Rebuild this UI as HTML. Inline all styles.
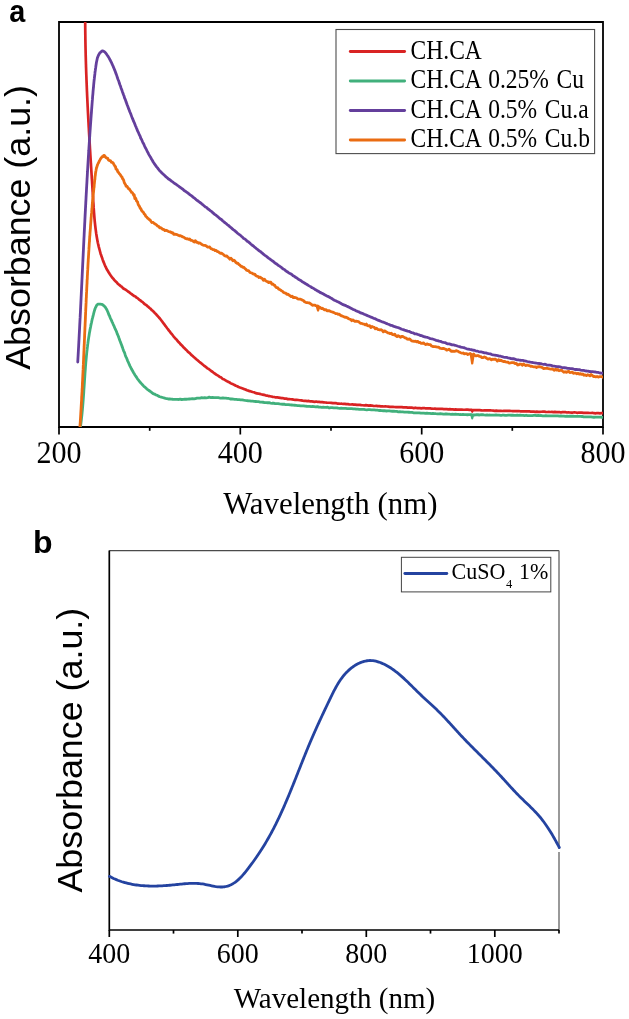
<!DOCTYPE html><html><head><meta charset="utf-8"><style>html,body{margin:0;padding:0;background:#fff;width:629px;height:1019px;overflow:hidden}svg{display:block;will-change:transform}</style></head><body><svg width="629" height="1019" viewBox="0 0 629 1019">
<rect width="629" height="1019" fill="#fff"/>
<defs><clipPath id="ca"><rect x="59" y="22" width="544" height="405"/></clipPath><clipPath id="cb"><rect x="109.3" y="550.6" width="449.7" height="379.4"/></clipPath></defs>
<text transform="translate(9.3 21.6) scale(0.9 1.0)" font-family="Liberation Sans, sans-serif" font-weight="bold" font-size="32">a</text>
<path d="M59 22H603V427H59Z" fill="none" stroke="#000" stroke-width="1.8"/>
<line x1="59.0" y1="427" x2="59.0" y2="434.5" stroke="#000" stroke-width="1.7"/>
<text transform="translate(59.0 462.6) scale(1.02 1.07)" text-anchor="middle" font-family="Liberation Serif, serif" font-size="29.5">200</text>
<line x1="240.3" y1="427" x2="240.3" y2="434.5" stroke="#000" stroke-width="1.7"/>
<text transform="translate(240.3 462.6) scale(1.02 1.07)" text-anchor="middle" font-family="Liberation Serif, serif" font-size="29.5">400</text>
<line x1="421.7" y1="427" x2="421.7" y2="434.5" stroke="#000" stroke-width="1.7"/>
<text transform="translate(421.7 462.6) scale(1.02 1.07)" text-anchor="middle" font-family="Liberation Serif, serif" font-size="29.5">600</text>
<line x1="603.0" y1="427" x2="603.0" y2="434.5" stroke="#000" stroke-width="1.7"/>
<text transform="translate(603.0 462.6) scale(1.02 1.07)" text-anchor="middle" font-family="Liberation Serif, serif" font-size="29.5">800</text>
<line x1="149.7" y1="427" x2="149.7" y2="430.8" stroke="#000" stroke-width="1.7"/>
<line x1="331.0" y1="427" x2="331.0" y2="430.8" stroke="#000" stroke-width="1.7"/>
<line x1="512.3" y1="427" x2="512.3" y2="430.8" stroke="#000" stroke-width="1.7"/>
<text transform="translate(330.3 513.7) scale(1.012 1)" text-anchor="middle" font-family="Liberation Serif, serif" font-size="30.5">Wavelength (nm)</text>
<text transform="translate(30.2 227.4) rotate(-90) scale(1.042 1)" text-anchor="middle" font-family="Liberation Sans, sans-serif" font-size="34.4">Absorbance (a.u.)</text>
<path d="M80.42 427.03 L80.63 425.52 L80.83 424.00 L81.02 422.49 L81.21 421.09 L81.38 419.53 L81.56 417.90 L81.72 416.53 L81.88 415.00 L82.04 413.48 L82.18 411.95 L82.33 410.50 L82.47 408.85 L82.60 407.41 L82.73 405.87 L82.85 404.50 L82.98 402.94 L83.09 401.40 L83.21 399.84 L83.32 398.41 L83.43 396.94 L83.54 395.41 L83.64 394.10 L83.74 392.57 L83.84 390.63 L83.94 389.23 L84.04 387.94 L84.14 386.42 L84.24 385.00 L84.34 383.51 L84.43 382.24 L84.53 380.36 L84.63 378.95 L84.73 377.75 L84.83 376.09 L84.93 374.60 L85.03 372.97 L85.14 371.34 L85.25 370.06 L85.36 368.56 L85.47 366.91 L85.59 365.48 L85.71 364.06 L85.83 362.46 L85.96 361.07 L86.09 359.60 L86.23 358.10 L86.37 356.54 L86.51 355.18 L86.67 353.72 L86.82 352.16 L86.99 350.52 L87.16 349.21 L87.33 347.57 L87.51 346.24 L87.70 344.51 L87.90 343.25 L88.11 341.64 L88.32 339.99 L88.54 338.60 L88.77 337.15 L89.01 335.67 L89.25 334.02 L89.51 332.50 L89.77 331.15 L90.05 329.57 L90.33 328.15 L90.63 326.71 L90.94 324.91 L91.25 323.63 L91.58 322.24 L91.92 320.55 L92.27 318.97 L92.64 317.65 L93.01 316.08 L93.40 314.64 L93.80 312.98 L94.22 311.32 L94.65 309.98 L95.12 308.49 L95.66 307.29 L96.29 306.04 L97.04 304.85 L97.94 304.21 L99.01 304.09 L100.28 304.07 L101.68 304.30 L103.07 305.09 L104.30 306.11 L105.33 307.28 L106.21 308.66 L106.97 310.04 L107.64 311.51 L108.26 313.03 L108.87 314.70 L109.48 315.77 L110.10 317.46 L110.72 318.88 L111.34 320.07 L111.95 321.63 L112.57 322.84 L113.18 324.34 L113.79 325.54 L114.39 326.95 L114.98 328.34 L115.56 329.58 L116.12 330.77 L116.69 332.06 L117.24 333.82 L117.78 334.98 L118.33 336.30 L118.86 337.80 L119.39 339.17 L119.92 340.71 L120.45 342.03 L120.97 343.45 L121.49 344.78 L122.02 346.35 L122.55 347.60 L123.07 349.24 L123.61 350.77 L124.14 351.83 L124.69 353.14 L125.23 354.94 L125.79 356.59 L126.36 357.58 L126.94 358.96 L127.52 360.58 L128.13 361.80 L128.74 363.23 L129.37 364.63 L130.02 366.10 L130.68 367.35 L131.36 368.77 L132.07 370.05 L132.79 371.29 L133.53 372.66 L134.30 373.87 L135.10 375.26 L135.91 376.39 L136.76 377.63 L137.63 379.16 L138.54 380.18 L139.47 381.36 L140.44 382.59 L141.43 383.62 L142.47 384.76 L143.53 385.93 L144.63 386.98 L145.77 387.84 L146.93 389.08 L148.12 389.88 L149.34 390.76 L150.58 391.67 L151.85 392.58 L153.14 393.63 L154.45 394.04 L155.77 394.90 L157.12 395.27 L158.47 396.12 L159.84 396.76 L161.23 397.10 L162.62 397.48 L164.03 397.96 L165.45 398.34 L166.89 398.62 L168.33 399.02 L169.78 399.01 L171.24 399.07 L172.71 399.25 L174.19 399.35 L175.68 399.44 L177.17 399.45 L178.67 399.48 L180.18 399.24 L181.69 399.50 L183.21 399.27 L184.73 399.12 L186.26 399.25 L187.79 399.22 L189.32 399.01 L190.86 398.84 L192.40 398.58 L193.94 398.90 L195.48 398.53 L197.02 398.15 L198.56 398.07 L200.10 398.04 L201.64 397.73 L203.18 397.83 L204.71 397.66 L206.24 397.78 L207.77 397.69 L209.30 397.21 L210.82 397.52 L212.33 397.32 L213.84 397.67 L215.35 397.60 L216.86 397.70 L218.36 397.59 L219.85 398.02 L221.35 398.15 L222.84 397.90 L224.33 398.21 L225.82 398.22 L227.31 398.44 L228.80 398.45 L230.28 398.99 L231.77 398.81 L233.26 399.06 L234.74 399.32 L236.23 399.35 L237.72 399.57 L239.21 399.70 L240.70 399.91 L242.19 399.96 L243.68 400.21 L245.17 400.40 L246.66 400.55 L248.15 400.76 L249.64 400.88 L251.14 401.17 L252.63 401.20 L254.13 401.38 L255.62 401.48 L257.12 401.65 L258.61 401.72 L260.11 402.09 L261.61 402.05 L263.10 402.25 L264.60 402.53 L266.10 402.69 L267.60 402.74 L269.10 402.70 L270.60 403.14 L272.10 403.27 L273.60 403.21 L275.10 403.62 L276.60 403.59 L278.10 403.68 L279.60 403.96 L281.11 404.07 L282.61 404.25 L284.11 404.17 L285.61 404.72 L287.11 404.56 L288.62 404.58 L290.12 404.97 L291.62 404.98 L293.13 405.19 L294.63 405.23 L296.13 405.39 L297.64 405.54 L299.14 405.54 L300.65 405.83 L302.15 405.81 L303.65 405.87 L305.16 406.10 L306.66 406.25 L308.16 406.28 L309.67 406.31 L311.17 406.59 L312.68 406.40 L314.18 406.59 L315.68 406.82 L317.19 406.74 L318.69 407.00 L320.20 407.09 L321.70 407.29 L323.20 407.16 L324.71 407.28 L326.21 407.48 L327.71 407.23 L329.22 407.99 L330.72 407.61 L332.22 407.69 L333.73 407.96 L335.23 407.94 L336.73 407.81 L338.23 408.17 L339.74 408.28 L341.24 408.20 L342.74 408.30 L344.25 408.47 L345.75 408.38 L347.25 408.62 L348.75 408.67 L350.26 408.64 L351.76 408.63 L353.26 408.85 L354.76 408.85 L356.27 409.15 L357.77 409.13 L359.27 409.29 L360.77 409.29 L362.27 409.39 L363.78 409.34 L365.28 409.60 L366.78 409.82 L368.28 409.65 L369.78 409.71 L371.29 409.85 L372.79 409.90 L374.29 409.96 L375.79 410.16 L377.29 410.20 L378.79 410.50 L380.29 410.43 L381.79 410.57 L383.30 410.74 L384.80 410.69 L386.30 411.01 L387.80 410.86 L389.30 410.95 L390.80 411.11 L392.30 411.24 L393.80 411.19 L395.30 411.46 L396.80 411.37 L398.30 411.84 L399.81 411.77 L401.31 411.80 L402.81 411.87 L404.31 412.03 L405.81 412.15 L407.31 412.14 L408.81 412.25 L410.32 412.43 L411.82 412.47 L413.32 412.73 L414.82 412.84 L416.33 412.79 L417.83 412.92 L419.33 412.78 L420.83 413.10 L422.34 413.09 L423.84 413.22 L425.34 413.43 L426.85 413.03 L428.35 413.40 L429.85 413.31 L431.36 413.57 L432.86 413.41 L434.36 413.57 L435.87 413.71 L437.37 413.81 L438.88 413.81 L440.38 413.76 L441.88 413.84 L443.39 414.06 L444.89 414.00 L446.40 413.85 L447.90 414.20 L449.41 414.20 L450.91 414.30 L452.42 414.19 L453.92 414.38 L455.43 414.19 L456.93 414.43 L458.44 414.34 L459.94 414.52 L461.45 414.59 L462.95 414.42 L464.46 414.54 L465.96 414.58 L467.47 414.75 L468.98 414.72 L470.48 414.52 L471.99 414.75 L473.49 414.82 L475.00 415.01 L476.51 414.58 L478.01 414.75 L479.52 415.00 L481.02 414.70 L482.53 414.74 L484.04 414.97 L485.54 415.06 L487.05 414.88 L488.55 415.05 L490.06 415.02 L491.57 415.21 L493.07 415.04 L494.58 415.18 L496.09 414.98 L497.59 415.08 L499.10 415.11 L500.61 415.28 L502.11 415.23 L503.62 415.09 L505.13 415.28 L506.63 415.31 L508.14 415.22 L509.65 415.22 L511.15 415.25 L512.66 415.09 L514.17 415.33 L515.67 415.35 L517.18 415.24 L518.69 415.45 L520.19 415.22 L521.70 415.33 L523.21 415.36 L524.71 415.67 L526.22 415.26 L527.72 415.54 L529.23 415.61 L530.74 415.56 L532.24 415.67 L533.75 415.43 L535.26 415.30 L536.76 415.69 L538.27 415.47 L539.78 415.60 L541.28 415.52 L542.79 415.81 L544.30 415.81 L545.80 415.64 L547.31 415.86 L548.81 415.80 L550.32 415.79 L551.83 415.84 L553.33 415.84 L554.84 415.96 L556.34 415.96 L557.85 415.91 L559.36 416.10 L560.86 415.94 L562.37 416.08 L563.87 416.13 L565.38 416.29 L566.89 416.09 L568.39 416.40 L569.90 416.25 L571.40 416.24 L572.91 416.22 L574.41 416.42 L575.92 416.39 L577.42 416.30 L578.93 416.34 L580.43 416.46 L581.94 416.49 L583.44 416.75 L584.95 416.83 L586.45 416.82 L587.96 416.82 L589.46 416.78 L590.96 416.89 L592.47 417.05 L593.97 417.26 L595.48 417.17 L596.98 417.09 L598.48 417.19 L599.99 417.20 L601.49 417.23 L603.00 417.37" fill="none" stroke="#41b07c" stroke-width="2.8" stroke-linejoin="round" stroke-linecap="round" clip-path="url(#ca)"/>
<path d="M85.20 21.42 L85.20 22.94 L85.21 24.46 L85.22 25.98 L85.23 27.61 L85.25 29.07 L85.26 30.47 L85.28 32.12 L85.30 33.62 L85.32 35.12 L85.34 36.60 L85.36 38.18 L85.38 39.54 L85.41 41.12 L85.43 42.59 L85.46 44.23 L85.49 45.68 L85.52 47.15 L85.55 48.60 L85.59 50.17 L85.62 51.71 L85.66 53.18 L85.69 54.87 L85.73 56.34 L85.77 57.40 L85.81 59.01 L85.85 60.72 L85.90 62.19 L85.94 63.77 L85.99 65.27 L86.03 67.00 L86.08 68.11 L86.13 69.70 L86.18 71.49 L86.23 72.82 L86.29 74.32 L86.34 75.68 L86.40 77.04 L86.45 78.76 L86.51 80.25 L86.57 81.59 L86.63 83.15 L86.69 84.72 L86.75 86.11 L86.81 87.71 L86.87 89.22 L86.93 90.71 L87.00 92.14 L87.07 93.77 L87.13 95.30 L87.20 96.72 L87.27 98.08 L87.34 99.76 L87.41 101.11 L87.48 102.77 L87.55 104.02 L87.62 105.76 L87.70 107.14 L87.77 108.48 L87.84 110.09 L87.92 111.62 L88.00 113.14 L88.07 114.48 L88.15 115.96 L88.23 117.61 L88.31 119.02 L88.39 120.60 L88.47 122.15 L88.55 123.36 L88.63 125.08 L88.71 126.69 L88.80 128.00 L88.88 129.43 L88.96 131.11 L89.05 132.54 L89.13 134.11 L89.22 135.46 L89.31 136.81 L89.39 138.47 L89.48 139.93 L89.57 141.57 L89.66 142.99 L89.74 144.27 L89.83 145.81 L89.92 147.56 L90.01 149.03 L90.10 150.37 L90.19 151.94 L90.28 153.49 L90.37 154.99 L90.47 156.53 L90.56 157.96 L90.65 159.41 L90.74 160.89 L90.83 162.55 L90.93 163.65 L91.02 165.40 L91.11 166.92 L91.21 168.25 L91.30 169.96 L91.39 171.34 L91.49 173.03 L91.58 174.41 L91.68 176.01 L91.77 177.58 L91.86 178.98 L91.96 180.34 L92.05 181.76 L92.15 183.66 L92.24 184.95 L92.34 186.38 L92.43 187.99 L92.53 189.46 L92.62 191.09 L92.72 192.51 L92.81 194.01 L92.91 195.44 L93.00 197.09 L93.09 198.43 L93.19 200.14 L93.28 201.76 L93.38 202.91 L93.47 204.31 L93.57 206.20 L93.67 207.95 L93.77 209.04 L93.88 210.52 L93.99 212.26 L94.10 213.60 L94.22 215.15 L94.34 216.69 L94.47 218.30 L94.60 219.70 L94.75 221.29 L94.89 222.74 L95.05 224.17 L95.22 225.73 L95.39 227.16 L95.58 228.77 L95.77 230.13 L95.97 231.63 L96.19 233.43 L96.42 234.73 L96.65 236.22 L96.91 237.76 L97.17 239.13 L97.45 240.63 L97.74 242.17 L98.05 243.62 L98.37 244.91 L98.71 246.60 L99.07 247.88 L99.44 249.27 L99.83 250.73 L100.23 252.23 L100.66 253.91 L101.10 254.99 L101.57 256.57 L102.05 257.71 L102.56 259.38 L103.08 260.88 L103.63 262.14 L104.20 263.48 L104.80 264.95 L105.42 266.37 L106.07 267.71 L106.74 269.20 L107.45 270.30 L108.18 271.49 L108.94 272.82 L109.74 274.08 L110.57 275.32 L111.43 276.51 L112.33 277.70 L113.26 278.63 L114.23 280.04 L115.24 280.96 L116.28 281.94 L117.35 283.19 L118.45 284.27 L119.58 285.16 L120.74 286.08 L121.91 286.89 L123.10 288.27 L124.31 288.95 L125.53 289.61 L126.76 290.55 L128.00 291.54 L129.24 292.22 L130.48 293.31 L131.73 294.11 L132.97 295.19 L134.20 296.04 L135.43 296.48 L136.66 297.70 L137.88 298.40 L139.09 299.63 L140.30 300.42 L141.49 301.38 L142.68 302.10 L143.86 303.38 L145.02 304.34 L146.18 304.92 L147.32 306.05 L148.45 306.90 L149.57 307.96 L150.68 308.81 L151.77 310.20 L152.84 310.89 L153.90 312.01 L154.95 313.16 L155.98 314.10 L156.98 315.25 L157.98 316.32 L158.95 317.50 L159.90 318.53 L160.84 319.79 L161.77 320.99 L162.68 322.17 L163.59 323.42 L164.49 324.58 L165.38 325.92 L166.28 327.00 L167.18 328.23 L168.08 329.36 L168.99 330.58 L169.91 331.67 L170.84 333.07 L171.78 334.03 L172.73 335.24 L173.68 336.52 L174.65 337.67 L175.62 338.70 L176.61 339.63 L177.60 341.04 L178.60 342.12 L179.61 343.02 L180.63 344.37 L181.66 345.27 L182.69 346.30 L183.74 347.51 L184.79 348.53 L185.85 349.63 L186.92 350.46 L188.00 351.90 L189.08 352.64 L190.18 353.55 L191.28 354.83 L192.39 355.72 L193.51 356.80 L194.63 357.72 L195.77 358.74 L196.91 359.76 L198.06 360.62 L199.22 361.76 L200.38 362.59 L201.55 363.50 L202.73 364.57 L203.92 365.56 L205.12 366.42 L206.32 367.28 L207.53 368.38 L208.75 369.01 L209.97 370.01 L211.20 371.03 L212.44 371.75 L213.68 372.80 L214.94 373.65 L216.19 374.62 L217.46 375.25 L218.73 376.12 L220.01 377.05 L221.30 377.52 L222.59 378.98 L223.89 379.31 L225.19 380.07 L226.51 381.01 L227.82 381.63 L229.15 382.14 L230.48 383.13 L231.82 383.85 L233.16 384.36 L234.51 385.03 L235.86 385.76 L237.22 386.20 L238.59 386.96 L239.96 387.51 L241.34 387.97 L242.73 388.43 L244.11 389.10 L245.51 389.53 L246.91 390.26 L248.31 390.63 L249.72 391.18 L251.13 391.55 L252.55 392.00 L253.98 392.30 L255.40 392.88 L256.84 393.41 L258.27 393.54 L259.71 393.88 L261.15 394.29 L262.60 394.59 L264.05 394.90 L265.51 395.32 L266.97 395.58 L268.43 396.09 L269.89 396.21 L271.36 396.52 L272.83 396.87 L274.30 396.98 L275.78 397.44 L277.26 397.43 L278.74 397.64 L280.22 397.92 L281.71 398.17 L283.20 398.22 L284.69 398.59 L286.18 398.59 L287.67 399.14 L289.17 399.15 L290.66 399.26 L292.16 399.40 L293.66 399.63 L295.16 399.81 L296.66 399.87 L298.16 400.03 L299.67 400.27 L301.17 400.38 L302.68 400.69 L304.18 400.86 L305.69 400.86 L307.19 401.05 L308.70 400.96 L310.20 401.33 L311.71 401.38 L313.21 401.57 L314.72 401.84 L316.22 401.50 L317.73 401.93 L319.23 401.89 L320.74 402.22 L322.24 402.11 L323.74 402.33 L325.25 402.53 L326.75 402.70 L328.26 402.75 L329.76 402.76 L331.26 402.91 L332.77 403.20 L334.27 403.20 L335.77 403.11 L337.28 403.53 L338.78 403.59 L340.28 403.75 L341.78 403.71 L343.29 403.96 L344.79 403.84 L346.29 404.14 L347.79 404.11 L349.30 404.36 L350.80 404.50 L352.30 404.39 L353.80 404.57 L355.30 404.68 L356.81 404.92 L358.31 404.96 L359.81 404.82 L361.31 405.12 L362.81 405.24 L364.31 405.50 L365.81 405.14 L367.31 405.37 L368.82 405.68 L370.32 405.45 L371.82 405.55 L373.32 405.85 L374.82 405.99 L376.32 405.88 L377.82 406.11 L379.32 406.14 L380.82 406.39 L382.32 406.29 L383.82 406.49 L385.32 406.34 L386.82 406.51 L388.32 406.60 L389.82 406.83 L391.32 406.84 L392.82 406.75 L394.32 407.00 L395.82 407.09 L397.32 407.05 L398.82 407.11 L400.32 407.19 L401.82 407.08 L403.32 407.38 L404.82 407.46 L406.32 407.39 L407.82 407.66 L409.32 407.47 L410.82 407.64 L412.32 407.71 L413.81 408.07 L415.31 407.71 L416.81 408.03 L418.31 408.14 L419.81 408.14 L421.31 408.30 L422.81 408.10 L424.31 408.01 L425.81 408.43 L427.31 408.26 L428.81 408.42 L430.31 408.38 L431.80 408.70 L433.30 408.74 L434.80 408.61 L436.30 408.86 L437.80 408.82 L439.30 408.84 L440.80 408.92 L442.30 408.95 L443.80 409.10 L445.30 409.11 L446.79 409.09 L448.29 409.30 L449.79 409.16 L451.29 409.32 L452.79 409.39 L454.29 409.57 L455.79 409.38 L457.29 409.70 L458.79 409.56 L460.29 409.56 L461.79 409.55 L463.28 409.75 L464.78 409.73 L466.28 409.64 L467.78 409.69 L469.28 409.80 L470.78 409.83 L472.28 410.09 L473.78 410.17 L475.28 410.15 L476.78 410.13 L478.28 410.08 L479.78 410.19 L481.28 410.33 L482.78 410.52 L484.28 410.42 L485.78 410.32 L487.28 410.40 L488.78 410.37 L490.28 410.38 L491.78 410.49 L493.28 410.58 L494.78 410.82 L496.28 410.64 L497.78 410.84 L499.28 410.93 L500.78 410.76 L502.28 410.99 L503.78 410.92 L505.28 410.82 L506.78 410.94 L508.28 410.95 L509.78 410.96 L511.28 411.00 L512.78 411.08 L514.28 411.15 L515.78 411.03 L517.28 411.17 L518.79 411.03 L520.29 411.28 L521.79 411.36 L523.29 411.34 L524.79 411.39 L526.29 411.46 L527.79 411.35 L529.30 411.43 L530.80 411.56 L532.30 411.66 L533.80 411.62 L535.31 411.91 L536.81 411.63 L538.31 411.80 L539.81 411.87 L541.32 411.73 L542.82 411.69 L544.32 411.68 L545.82 411.87 L547.33 412.02 L548.83 411.96 L550.33 411.98 L551.84 411.95 L553.34 412.10 L554.84 411.81 L556.35 412.13 L557.85 412.14 L559.36 412.01 L560.86 412.47 L562.37 412.08 L563.87 412.15 L565.37 412.17 L566.88 412.49 L568.38 412.28 L569.89 412.51 L571.39 412.53 L572.90 412.53 L574.41 412.38 L575.91 412.50 L577.42 412.81 L578.92 412.49 L580.43 412.58 L581.93 412.70 L583.44 412.86 L584.95 412.83 L586.45 412.92 L587.96 412.74 L589.47 413.02 L590.98 413.02 L592.48 412.80 L593.99 413.21 L595.50 413.34 L597.01 413.01 L598.51 413.15 L600.02 413.35 L601.53 413.05 L603.04 413.03" fill="none" stroke="#d92323" stroke-width="2.7" stroke-linejoin="round" stroke-linecap="round" clip-path="url(#ca)"/>
<path d="M79.92 427.00 L80.00 425.80 L80.08 424.60 L80.16 423.40 L80.24 422.61 L80.31 421.20 L80.39 419.56 L80.47 418.87 L80.54 417.57 L80.62 416.34 L80.69 415.02 L80.76 414.06 L80.84 412.28 L80.91 411.34 L80.98 409.99 L81.05 409.28 L81.12 407.83 L81.19 406.48 L81.26 405.06 L81.33 404.10 L81.40 403.02 L81.47 401.69 L81.53 401.20 L81.60 399.87 L81.67 396.99 L81.73 396.16 L81.80 395.73 L81.86 394.42 L81.92 393.51 L81.99 392.31 L82.05 391.96 L82.11 389.31 L82.18 388.44 L82.24 388.33 L82.30 386.50 L82.36 385.31 L82.42 383.58 L82.48 381.87 L82.54 381.48 L82.60 380.25 L82.66 378.45 L82.72 377.50 L82.78 376.57 L82.83 374.98 L82.89 374.16 L82.95 373.04 L83.01 371.81 L83.06 370.37 L83.12 369.66 L83.17 368.59 L83.23 367.14 L83.29 365.42 L83.34 364.92 L83.40 363.16 L83.45 362.58 L83.51 360.50 L83.56 360.19 L83.61 358.57 L83.67 356.82 L83.72 356.04 L83.78 355.00 L83.83 353.90 L83.88 352.13 L83.94 350.87 L83.99 350.26 L84.04 348.76 L84.09 347.87 L84.15 346.91 L84.20 344.62 L84.25 344.27 L84.30 343.51 L84.36 341.62 L84.41 340.19 L84.46 339.69 L84.51 338.26 L84.57 337.35 L84.62 335.59 L84.67 333.88 L84.72 333.29 L84.77 331.94 L84.83 331.29 L84.88 329.82 L84.93 327.80 L84.98 326.79 L85.04 326.53 L85.09 325.23 L85.14 323.44 L85.19 322.52 L85.25 321.52 L85.30 320.33 L85.35 319.31 L85.40 317.83 L85.46 316.47 L85.51 315.20 L85.56 314.59 L85.62 311.90 L85.67 311.64 L85.72 310.52 L85.78 308.66 L85.83 308.25 L85.89 306.61 L85.94 306.09 L86.00 304.44 L86.05 303.60 L86.11 302.64 L86.16 301.06 L86.22 299.29 L86.27 297.81 L86.33 298.07 L86.39 296.03 L86.44 294.57 L86.50 293.75 L86.56 292.39 L86.62 291.66 L86.68 290.09 L86.73 288.88 L86.79 287.35 L86.85 286.68 L86.91 284.80 L86.97 284.37 L87.03 283.55 L87.09 280.98 L87.16 279.36 L87.22 279.54 L87.28 279.21 L87.34 276.41 L87.41 275.10 L87.47 274.72 L87.53 272.88 L87.60 271.83 L87.66 270.70 L87.73 269.90 L87.79 268.27 L87.86 267.38 L87.93 265.97 L88.00 264.47 L88.06 263.51 L88.13 262.02 L88.20 261.25 L88.27 259.55 L88.34 258.36 L88.41 258.31 L88.48 256.43 L88.56 255.23 L88.63 254.28 L88.70 252.66 L88.78 251.55 L88.85 250.64 L88.93 249.38 L89.00 247.53 L89.08 247.23 L89.16 245.39 L89.24 243.98 L89.32 242.85 L89.39 241.88 L89.48 241.59 L89.56 239.12 L89.64 238.53 L89.72 236.29 L89.80 236.06 L89.89 235.26 L89.97 233.55 L90.06 232.18 L90.15 231.37 L90.23 230.38 L90.32 229.16 L90.41 228.55 L90.50 226.56 L90.59 225.00 L90.68 224.01 L90.78 222.84 L90.87 221.72 L90.96 220.46 L91.06 219.36 L91.15 217.33 L91.25 217.26 L91.35 215.43 L91.45 213.96 L91.55 213.58 L91.65 212.69 L91.75 211.12 L91.85 209.77 L91.96 208.08 L92.06 208.60 L92.17 206.51 L92.27 204.40 L92.38 203.37 L92.49 202.56 L92.60 200.62 L92.71 200.20 L92.82 198.72 L92.94 198.29 L93.05 196.97 L93.17 194.12 L93.28 194.17 L93.40 192.22 L93.52 192.26 L93.64 190.64 L93.76 189.61 L93.88 187.69 L94.00 187.80 L94.13 186.69 L94.25 184.11 L94.38 183.56 L94.51 181.90 L94.64 180.99 L94.77 179.24 L94.90 179.46 L95.03 176.99 L95.17 176.10 L95.31 175.26 L95.47 173.56 L95.64 172.56 L95.84 171.24 L96.06 170.26 L96.31 168.63 L96.59 167.80 L96.90 166.76 L97.26 165.57 L97.66 164.63 L98.12 163.36 L98.62 162.74 L99.19 161.18 L99.81 160.20 L100.50 158.92 L101.26 157.96 L102.09 156.63 L102.96 156.60 L103.80 155.39 L104.56 155.66 L105.26 156.75 L105.97 157.62 L106.75 158.13 L107.61 158.20 L108.54 160.04 L109.50 160.67 L110.47 160.60 L111.41 162.29 L112.29 162.37 L113.10 162.98 L113.80 164.41 L114.42 165.23 L114.98 166.40 L115.51 166.61 L116.03 169.19 L116.56 169.16 L117.14 169.77 L117.77 171.74 L118.46 172.29 L119.18 173.57 L119.91 174.24 L120.63 175.33 L121.33 176.46 L121.99 177.02 L122.59 178.70 L123.12 179.26 L123.60 180.18 L124.05 181.72 L124.49 182.99 L124.97 183.77 L125.49 184.53 L126.10 186.19 L126.80 186.04 L127.56 187.26 L128.38 188.59 L129.21 188.81 L130.05 190.28 L130.85 191.12 L131.61 192.47 L132.33 192.61 L133.00 193.72 L133.64 195.17 L134.25 194.96 L134.84 198.52 L135.40 197.90 L135.95 198.98 L136.48 200.80 L137.01 201.51 L137.53 201.85 L138.06 204.04 L138.59 205.26 L139.14 205.77 L139.70 206.93 L140.28 208.35 L140.89 208.77 L141.52 210.40 L142.17 211.30 L142.86 211.90 L143.56 212.54 L144.29 214.01 L145.04 214.64 L145.82 216.38 L146.61 216.88 L147.43 218.03 L148.26 218.58 L149.11 219.46 L149.99 219.79 L150.88 221.23 L151.79 222.50 L152.71 222.30 L153.65 222.90 L154.61 223.80 L155.58 224.34 L156.56 224.91 L157.56 225.95 L158.57 226.39 L159.59 227.78 L160.63 227.73 L161.67 228.46 L162.73 229.31 L163.79 229.29 L164.87 230.60 L165.95 230.19 L167.04 230.61 L168.13 231.29 L169.24 231.88 L170.34 231.77 L171.46 232.84 L172.58 232.55 L173.70 234.36 L174.83 234.13 L175.96 234.30 L177.09 234.60 L178.23 235.25 L179.36 235.73 L180.50 235.77 L181.64 236.24 L182.78 236.98 L183.91 237.24 L185.05 238.31 L186.19 238.82 L187.32 238.73 L188.45 239.36 L189.59 238.96 L190.72 240.27 L191.85 240.40 L192.98 241.06 L194.11 241.99 L195.23 240.68 L196.35 242.26 L197.48 242.09 L198.60 243.30 L199.72 242.89 L200.83 243.71 L201.95 244.48 L203.06 245.13 L204.17 245.35 L205.27 245.43 L206.38 246.01 L207.48 247.14 L208.58 247.22 L209.67 246.95 L210.77 248.59 L211.86 248.90 L212.94 249.61 L214.03 249.58 L215.11 250.62 L216.18 250.29 L217.26 251.56 L218.32 251.62 L219.39 252.69 L220.45 253.39 L221.51 253.16 L222.56 254.04 L223.61 254.65 L224.66 255.75 L225.70 256.13 L226.73 255.86 L227.77 257.22 L228.79 257.96 L229.81 259.20 L230.83 258.12 L231.84 259.28 L232.85 260.77 L233.85 260.22 L234.85 260.95 L235.84 262.40 L236.84 263.30 L237.82 263.23 L238.81 264.46 L239.79 264.96 L240.78 266.28 L241.76 266.29 L242.75 267.43 L243.73 267.27 L244.72 268.28 L245.70 269.01 L246.70 270.25 L247.69 270.67 L248.69 270.75 L249.69 272.05 L250.70 272.75 L251.71 273.00 L252.73 273.57 L253.76 274.22 L254.79 274.16 L255.83 275.60 L256.88 276.21 L257.94 276.28 L259.01 277.56 L260.09 277.15 L261.17 278.05 L262.25 278.60 L263.34 280.24 L264.43 279.15 L265.51 280.65 L266.59 281.36 L267.66 281.65 L268.72 282.58 L269.77 282.18 L270.81 282.21 L271.83 284.22 L272.84 284.00 L273.83 285.06 L274.82 285.37 L275.80 287.08 L276.77 287.71 L277.75 287.71 L278.72 289.15 L279.70 289.50 L280.68 290.08 L281.67 290.85 L282.66 291.40 L283.67 292.41 L284.70 292.88 L285.74 293.17 L286.79 294.35 L287.85 294.17 L288.93 295.09 L290.01 295.66 L291.10 296.63 L292.20 296.21 L293.31 297.69 L294.42 297.44 L295.54 297.72 L296.66 297.94 L297.78 298.94 L298.91 299.13 L300.03 299.05 L301.16 299.47 L302.28 300.16 L303.41 300.53 L304.53 301.76 L305.66 302.32 L306.78 302.53 L307.91 302.74 L309.03 302.82 L310.15 303.47 L311.28 304.28 L312.40 305.28 L313.52 305.17 L314.65 305.07 L315.77 305.65 L316.89 305.85 L318.02 306.15 L319.14 306.86 L320.26 307.47 L321.38 308.64 L322.51 308.28 L323.63 309.30 L324.75 309.93 L325.87 309.60 L326.99 310.73 L328.12 310.77 L329.24 310.69 L330.36 311.44 L331.48 311.77 L332.61 312.09 L333.73 312.54 L334.85 313.13 L335.97 313.70 L337.10 313.54 L338.22 314.37 L339.34 314.12 L340.46 315.36 L341.59 315.95 L342.71 316.18 L343.83 316.67 L344.96 317.24 L346.08 317.10 L347.21 317.73 L348.33 318.49 L349.45 319.14 L350.58 319.30 L351.70 320.70 L352.83 319.93 L353.95 320.85 L355.08 321.39 L356.20 321.19 L357.33 321.30 L358.46 321.56 L359.58 322.59 L360.71 323.43 L361.84 323.47 L362.96 323.84 L364.09 324.01 L365.22 324.85 L366.35 324.05 L367.48 325.53 L368.61 325.85 L369.74 325.63 L370.87 327.63 L372.00 326.44 L373.13 326.98 L374.26 327.33 L375.39 328.77 L376.53 328.27 L377.66 329.37 L378.79 329.73 L379.93 329.98 L381.06 329.67 L382.20 330.38 L383.33 331.80 L384.47 330.85 L385.60 331.44 L386.74 332.13 L387.88 332.95 L389.02 333.08 L390.16 333.68 L391.30 333.25 L392.44 334.53 L393.58 334.73 L394.72 334.13 L395.86 335.91 L397.00 336.61 L398.15 335.60 L399.29 336.34 L400.44 337.30 L401.58 336.36 L402.73 336.49 L403.88 337.16 L405.02 337.84 L406.17 338.18 L407.32 339.06 L408.47 339.25 L409.62 338.91 L410.77 340.07 L411.92 341.00 L413.08 341.03 L414.23 341.27 L415.38 341.17 L416.54 341.93 L417.69 341.38 L418.85 342.48 L420.01 342.43 L421.16 343.30 L422.32 343.32 L423.48 342.94 L424.64 343.80 L425.80 344.60 L426.96 343.86 L428.12 344.43 L429.28 344.64 L430.44 344.62 L431.60 346.03 L432.76 346.49 L433.93 346.56 L435.09 346.61 L436.25 346.77 L437.42 347.20 L438.58 347.06 L439.75 348.08 L440.92 348.44 L442.08 348.68 L443.25 348.30 L444.42 348.86 L445.59 349.04 L446.75 350.20 L447.92 349.75 L449.09 349.10 L450.26 350.41 L451.43 351.35 L452.61 351.08 L453.78 351.44 L454.95 351.33 L456.12 350.70 L457.29 351.04 L458.47 351.56 L459.64 352.32 L460.81 352.78 L461.99 353.21 L463.16 353.01 L464.34 353.85 L465.52 353.55 L466.69 353.62 L467.87 354.57 L469.04 354.03 L470.22 353.46 L471.40 354.46 L472.58 355.23 L473.75 354.05 L474.93 355.52 L476.11 355.77 L477.29 355.52 L478.47 355.74 L479.65 356.44 L480.83 356.64 L482.01 357.69 L483.19 357.53 L484.37 356.89 L485.55 357.45 L486.74 358.38 L487.92 359.15 L489.10 358.70 L490.28 358.90 L491.46 359.82 L492.65 359.20 L493.83 359.30 L495.01 359.03 L496.20 359.66 L497.38 361.09 L498.57 359.69 L499.75 360.56 L500.93 360.14 L502.12 361.05 L503.30 361.61 L504.49 361.32 L505.67 361.97 L506.86 362.18 L508.05 362.27 L509.23 363.06 L510.42 362.85 L511.60 362.57 L512.79 362.62 L513.98 362.75 L515.16 363.56 L516.35 363.40 L517.54 364.99 L518.72 364.79 L519.91 364.07 L521.10 364.23 L522.29 365.34 L523.47 363.94 L524.66 364.78 L525.85 365.62 L527.04 364.98 L528.22 365.38 L529.41 365.64 L530.60 366.29 L531.79 366.25 L532.97 366.57 L534.16 366.86 L535.35 366.80 L536.54 367.48 L537.73 366.85 L538.91 366.73 L540.10 366.77 L541.29 367.04 L542.48 367.71 L543.67 368.62 L544.86 368.43 L546.04 368.27 L547.23 368.25 L548.42 368.69 L549.61 368.94 L550.80 369.06 L551.98 368.86 L553.17 369.48 L554.36 370.34 L555.55 369.10 L556.74 370.16 L557.92 369.50 L559.11 370.73 L560.30 370.50 L561.49 370.08 L562.67 371.26 L563.86 372.22 L565.05 371.64 L566.23 372.30 L567.42 371.93 L568.61 371.18 L569.79 372.56 L570.98 372.34 L572.17 372.06 L573.35 373.26 L574.54 373.22 L575.73 373.04 L576.91 373.86 L578.10 373.26 L579.28 374.13 L580.47 373.60 L581.65 374.45 L582.84 373.91 L584.02 375.26 L585.21 374.89 L586.39 375.61 L587.58 374.78 L588.76 375.12 L589.94 375.90 L591.13 374.48 L592.31 375.42 L593.49 376.56 L594.67 376.49 L595.86 376.91 L597.04 376.52 L598.22 377.10 L599.40 376.71 L600.58 376.61 L601.76 376.65 L602.94 377.36" fill="none" stroke="#ea6c12" stroke-width="2.8" stroke-linejoin="round" stroke-linecap="round" clip-path="url(#ca)"/>
<path d="M77.75 362.04 L77.83 360.53 L77.92 359.02 L78.00 357.52 L78.09 356.12 L78.17 354.56 L78.26 352.93 L78.34 351.56 L78.42 350.03 L78.50 348.52 L78.59 346.98 L78.67 345.54 L78.75 343.88 L78.83 342.44 L78.91 340.90 L78.99 339.52 L79.07 337.95 L79.15 336.41 L79.23 334.85 L79.31 333.41 L79.39 331.93 L79.47 330.40 L79.54 329.08 L79.62 327.55 L79.70 325.60 L79.77 324.19 L79.85 322.90 L79.93 321.36 L80.00 319.94 L80.08 318.44 L80.16 317.16 L80.23 315.27 L80.31 313.86 L80.38 312.65 L80.46 310.98 L80.53 309.48 L80.61 307.84 L80.68 306.20 L80.75 304.92 L80.83 303.41 L80.90 301.75 L80.98 300.31 L81.05 298.89 L81.12 297.28 L81.20 295.88 L81.27 294.40 L81.34 292.90 L81.41 291.33 L81.49 289.96 L81.56 288.50 L81.63 286.93 L81.70 285.29 L81.78 283.98 L81.85 282.33 L81.92 281.00 L81.99 279.26 L82.06 278.00 L82.14 276.39 L82.21 274.74 L82.28 273.35 L82.35 271.90 L82.42 270.42 L82.50 268.77 L82.57 267.26 L82.64 265.91 L82.71 264.33 L82.78 262.92 L82.86 261.48 L82.93 259.69 L83.00 258.42 L83.07 257.03 L83.15 255.35 L83.22 253.79 L83.29 252.47 L83.36 250.91 L83.44 249.49 L83.51 247.84 L83.58 246.20 L83.65 244.87 L83.73 243.32 L83.80 241.97 L83.87 240.40 L83.95 238.68 L84.02 237.23 L84.10 235.98 L84.17 234.45 L84.24 232.79 L84.32 231.36 L84.39 229.91 L84.47 228.41 L84.54 226.96 L84.62 225.38 L84.69 223.84 L84.77 222.32 L84.85 220.97 L84.92 219.07 L85.00 217.82 L85.07 216.34 L85.15 214.66 L85.23 213.36 L85.31 211.74 L85.38 210.42 L85.46 208.80 L85.54 207.39 L85.62 205.95 L85.70 204.34 L85.78 202.68 L85.86 201.10 L85.94 199.99 L86.02 198.26 L86.10 196.68 L86.18 195.27 L86.26 193.73 L86.34 192.34 L86.43 190.74 L86.51 189.23 L86.59 187.63 L86.68 186.27 L86.76 184.58 L86.85 183.28 L86.93 181.87 L87.02 180.00 L87.10 178.38 L87.19 177.24 L87.27 175.96 L87.36 174.03 L87.45 172.49 L87.54 171.21 L87.62 169.53 L87.71 168.06 L87.80 166.57 L87.89 165.17 L87.98 163.55 L88.07 162.13 L88.17 160.57 L88.26 158.98 L88.35 157.54 L88.44 155.96 L88.54 154.57 L88.63 152.93 L88.72 151.43 L88.82 150.23 L88.92 148.54 L89.01 147.04 L89.11 145.61 L89.21 143.99 L89.30 142.51 L89.40 141.09 L89.50 139.57 L89.60 137.90 L89.70 136.64 L89.80 134.97 L89.90 133.42 L90.01 131.94 L90.11 130.50 L90.21 129.25 L90.32 127.41 L90.42 126.08 L90.53 124.31 L90.63 123.07 L90.74 121.69 L90.85 120.06 L90.96 118.52 L91.06 117.13 L91.17 115.70 L91.28 114.20 L91.40 112.87 L91.51 111.17 L91.62 109.59 L91.73 108.16 L91.85 106.68 L91.96 105.22 L92.08 103.72 L92.19 102.26 L92.31 100.56 L92.43 99.38 L92.54 97.74 L92.66 96.19 L92.79 94.92 L92.91 93.53 L93.03 91.95 L93.16 90.42 L93.30 88.81 L93.43 87.78 L93.57 86.05 L93.71 84.31 L93.86 82.86 L94.01 81.46 L94.17 79.75 L94.34 78.45 L94.51 76.85 L94.68 75.53 L94.87 73.97 L95.06 71.99 L95.25 70.77 L95.46 69.01 L95.67 67.78 L95.89 66.09 L96.13 64.55 L96.37 62.77 L96.64 61.53 L96.97 59.98 L97.37 58.07 L97.86 56.76 L98.46 55.20 L99.20 53.93 L100.07 52.57 L101.01 51.97 L102.00 51.01 L103.00 50.94 L103.96 51.40 L104.89 52.05 L105.78 53.14 L106.63 54.25 L107.45 55.49 L108.24 56.58 L108.99 57.92 L109.72 59.22 L110.42 60.51 L111.09 61.88 L111.74 63.18 L112.37 64.67 L112.98 65.92 L113.57 67.34 L114.15 68.69 L114.71 70.13 L115.26 71.48 L115.79 73.13 L116.32 74.38 L116.84 75.88 L117.36 77.47 L117.87 78.93 L118.38 80.29 L118.89 81.55 L119.40 83.29 L119.91 84.72 L120.42 85.96 L120.93 87.66 L121.44 88.92 L121.95 90.31 L122.46 91.89 L122.98 93.28 L123.49 94.76 L124.01 95.96 L124.52 97.80 L125.04 98.93 L125.56 100.23 L126.08 101.90 L126.61 103.20 L127.13 104.69 L127.66 106.02 L128.19 107.46 L128.72 108.90 L129.26 110.18 L129.80 111.75 L130.34 113.01 L130.88 114.35 L131.43 115.86 L131.98 117.29 L132.54 118.60 L133.09 119.91 L133.66 121.47 L134.22 122.56 L134.79 124.03 L135.37 125.54 L135.94 126.74 L136.53 128.28 L137.12 129.65 L137.71 131.13 L138.31 132.28 L138.91 133.68 L139.52 135.16 L140.13 136.19 L140.75 138.22 L141.37 139.12 L142.00 140.48 L142.64 142.03 L143.28 143.27 L143.93 144.42 L144.59 146.06 L145.25 147.44 L145.92 148.63 L146.59 150.00 L147.28 151.43 L147.97 152.61 L148.67 154.10 L149.39 155.40 L150.12 156.61 L150.87 157.84 L151.63 159.27 L152.41 160.48 L153.21 161.98 L154.03 163.13 L154.86 164.45 L155.72 165.60 L156.61 166.82 L157.52 167.88 L158.45 169.22 L159.42 170.50 L160.41 171.36 L161.43 172.42 L162.48 173.55 L163.57 174.55 L164.68 175.54 L165.82 176.63 L166.99 177.54 L168.18 178.70 L169.38 179.47 L170.60 180.43 L171.83 181.42 L173.06 182.17 L174.30 183.28 L175.54 183.93 L176.78 184.80 L178.01 185.76 L179.24 186.69 L180.46 187.43 L181.68 188.50 L182.90 189.21 L184.11 190.48 L185.32 191.21 L186.53 192.05 L187.73 192.93 L188.93 193.90 L190.12 194.83 L191.32 195.64 L192.51 196.57 L193.70 197.58 L194.88 198.45 L196.07 199.55 L197.25 200.49 L198.42 201.27 L199.60 202.25 L200.77 202.96 L201.95 204.12 L203.12 204.96 L204.29 205.95 L205.45 207.01 L206.62 207.48 L207.78 208.71 L208.94 209.48 L210.11 210.62 L211.27 211.32 L212.43 212.36 L213.58 213.38 L214.74 214.37 L215.90 215.24 L217.06 216.08 L218.21 217.05 L219.37 218.17 L220.52 219.01 L221.68 219.76 L222.83 221.01 L223.99 221.91 L225.14 222.91 L226.30 223.72 L227.46 224.82 L228.61 225.55 L229.77 226.70 L230.93 227.53 L232.09 228.63 L233.24 229.63 L234.40 230.38 L235.56 231.43 L236.73 232.40 L237.89 233.50 L239.05 234.40 L240.21 235.13 L241.38 236.30 L242.54 237.29 L243.71 238.42 L244.88 238.92 L246.05 240.02 L247.22 241.20 L248.39 241.84 L249.56 242.81 L250.74 243.98 L251.91 244.99 L253.09 245.74 L254.27 246.84 L255.45 247.74 L256.63 248.85 L257.81 249.62 L259.00 250.68 L260.18 251.39 L261.37 252.42 L262.56 253.37 L263.75 254.45 L264.95 255.31 L266.14 256.08 L267.34 257.18 L268.54 258.11 L269.74 258.93 L270.95 259.83 L272.16 260.75 L273.37 261.48 L274.58 262.61 L275.79 263.51 L277.01 264.28 L278.23 265.37 L279.45 266.00 L280.67 266.98 L281.90 267.87 L283.13 269.04 L284.36 269.48 L285.59 270.61 L286.83 271.51 L288.07 272.30 L289.31 273.25 L290.56 273.83 L291.81 274.52 L293.06 275.73 L294.31 276.32 L295.57 277.25 L296.83 277.97 L298.09 279.06 L299.35 279.85 L300.62 280.47 L301.89 281.47 L303.16 282.17 L304.43 282.94 L305.71 283.75 L306.99 284.50 L308.27 285.38 L309.55 286.12 L310.84 286.82 L312.13 287.75 L313.42 288.31 L314.71 289.18 L316.01 289.95 L317.31 290.83 L318.61 291.33 L319.91 292.34 L321.22 292.89 L322.52 293.58 L323.83 294.25 L325.15 295.12 L326.46 295.78 L327.78 296.35 L329.10 297.06 L330.42 297.83 L331.74 298.52 L333.07 299.43 L334.40 300.16 L335.73 300.79 L337.06 301.41 L338.39 302.00 L339.73 302.73 L341.07 303.50 L342.41 304.32 L343.75 304.84 L345.10 305.35 L346.44 306.05 L347.79 306.64 L349.14 307.25 L350.50 307.96 L351.85 308.65 L353.21 309.48 L354.57 309.90 L355.93 310.68 L357.29 311.35 L358.65 311.77 L360.02 312.57 L361.39 313.07 L362.76 313.55 L364.13 314.23 L365.50 314.80 L366.88 315.37 L368.26 315.96 L369.64 316.59 L371.02 317.21 L372.40 317.64 L373.78 318.32 L375.17 318.71 L376.56 319.49 L377.95 320.10 L379.34 320.61 L380.73 321.18 L382.13 321.78 L383.52 322.18 L384.92 322.77 L386.32 323.41 L387.72 324.01 L389.13 324.47 L390.53 325.26 L391.94 325.48 L393.34 326.13 L394.75 326.69 L396.16 327.04 L397.57 327.47 L398.99 327.94 L400.40 328.61 L401.82 329.23 L403.24 329.63 L404.65 330.12 L406.07 330.55 L407.50 331.15 L408.92 331.32 L410.34 332.09 L411.77 332.54 L413.20 332.86 L414.63 333.76 L416.06 333.80 L417.49 334.31 L418.92 334.76 L420.35 335.50 L421.79 335.72 L423.22 336.36 L424.66 336.80 L426.10 337.21 L427.54 337.47 L428.98 338.00 L430.42 338.71 L431.86 338.79 L433.31 339.28 L434.75 339.79 L436.20 340.34 L437.65 340.70 L439.10 341.18 L440.54 341.38 L442.00 342.04 L443.45 342.40 L444.90 342.55 L446.35 343.34 L447.81 343.83 L449.26 343.86 L450.72 344.36 L452.18 344.92 L453.63 344.97 L455.09 345.29 L456.55 345.77 L458.01 346.24 L459.47 346.62 L460.94 347.14 L462.40 347.47 L463.86 347.67 L465.33 348.25 L466.79 348.78 L468.26 349.06 L469.73 349.40 L471.20 349.64 L472.66 350.12 L474.13 350.24 L475.60 350.79 L477.07 351.04 L478.54 351.54 L480.02 351.80 L481.49 351.96 L482.96 352.44 L484.43 352.91 L485.91 352.96 L487.38 353.36 L488.86 353.67 L490.33 353.91 L491.81 354.53 L493.29 354.89 L494.76 355.15 L496.24 355.40 L497.72 355.68 L499.20 356.03 L500.68 356.22 L502.16 356.72 L503.64 357.05 L505.12 357.34 L506.60 357.46 L508.08 357.84 L509.56 358.10 L511.04 358.63 L512.52 358.73 L514.00 358.77 L515.49 359.34 L516.97 359.80 L518.45 359.94 L519.94 360.25 L521.42 360.42 L522.90 360.46 L524.39 360.76 L525.87 361.10 L527.35 361.50 L528.84 361.82 L530.32 362.14 L531.81 362.28 L533.29 362.70 L534.77 362.81 L536.26 363.02 L537.74 363.47 L539.23 363.51 L540.71 363.55 L542.20 364.00 L543.68 364.39 L545.17 364.26 L546.65 364.83 L548.14 365.08 L549.62 365.19 L551.10 365.42 L552.59 365.79 L554.07 366.01 L555.56 366.47 L557.04 366.59 L558.52 366.59 L560.01 366.91 L561.49 367.33 L562.97 367.70 L564.46 367.74 L565.94 367.96 L567.42 368.37 L568.90 368.36 L570.39 368.55 L571.87 368.64 L573.35 368.96 L574.83 369.50 L576.31 369.28 L577.79 369.67 L579.27 369.71 L580.75 370.10 L582.23 370.40 L583.71 370.47 L585.18 370.79 L586.66 371.00 L588.14 371.17 L589.61 371.52 L591.09 371.61 L592.57 371.68 L594.04 371.83 L595.52 372.01 L596.99 372.36 L598.46 372.46 L599.94 373.02 L601.41 373.10 L602.88 373.05" fill="none" stroke="#643f9c" stroke-width="2.8" stroke-linejoin="round" stroke-linecap="round" clip-path="url(#ca)"/>
<path d="M316.5 305.5 L318 310.5 L319.5 306.5" fill="none" stroke="#ea6c12" stroke-width="2.2" stroke-linejoin="round"/>
<path d="M470.8 354.5 L472.2 363.5 L473.6 355" fill="none" stroke="#ea6c12" stroke-width="2.2" stroke-linejoin="round"/>
<path d="M471 414 L472.2 418.5 L473.4 414.5" fill="none" stroke="#41b07c" stroke-width="2" stroke-linejoin="round"/>
<path d="M471 409 L472.2 412 L473.4 409.5" fill="none" stroke="#d92323" stroke-width="1.8" stroke-linejoin="round"/>
<rect x="336" y="29.5" width="258.6" height="124.1" fill="#fff" stroke="#4d4d4d" stroke-width="1.1"/>
<line x1="350.3" y1="51.5" x2="404.6" y2="51.5" stroke="#d92323" stroke-width="2.9" stroke-linecap="round"/>
<text transform="translate(410.6 58.8) scale(0.98 1.1)" font-family="Liberation Serif, serif" font-size="24" word-spacing="1.8">CH.CA</text>
<line x1="350.3" y1="81.0" x2="404.6" y2="81.0" stroke="#41b07c" stroke-width="2.9" stroke-linecap="round"/>
<text transform="translate(410.6 88.2) scale(0.98 1.1)" font-family="Liberation Serif, serif" font-size="24" word-spacing="1.8">CH.CA 0.25% Cu</text>
<line x1="350.3" y1="110.5" x2="404.6" y2="110.5" stroke="#643f9c" stroke-width="2.9" stroke-linecap="round"/>
<text transform="translate(410.6 117.6) scale(0.98 1.1)" font-family="Liberation Serif, serif" font-size="24" word-spacing="1.8">CH.CA 0.5% Cu.a</text>
<line x1="350.3" y1="140.0" x2="404.6" y2="140.0" stroke="#ea6c12" stroke-width="2.9" stroke-linecap="round"/>
<text transform="translate(410.6 147.0) scale(0.98 1.1)" font-family="Liberation Serif, serif" font-size="24" word-spacing="1.8">CH.CA 0.5% Cu.b</text>
<text x="32.9" y="553.4" font-family="Liberation Sans, sans-serif" font-weight="bold" font-size="32">b</text>
<path d="M109.3 550.6H559.0" fill="none" stroke="#4a4a4a" stroke-width="1.4"/>
<path d="M559.0 550.6V930.0" fill="none" stroke="#6e6e6e" stroke-width="1.4"/>
<path d="M109.3 550.6V930.0H559.0" fill="none" stroke="#000" stroke-width="1.7"/>
<line x1="109.3" y1="930.0" x2="109.3" y2="937" stroke="#000" stroke-width="1.7"/>
<text transform="translate(109.3 963.4) scale(1.0 1.06)" text-anchor="middle" font-family="Liberation Serif, serif" font-size="28">400</text>
<line x1="237.8" y1="930.0" x2="237.8" y2="937" stroke="#000" stroke-width="1.7"/>
<text transform="translate(237.8 963.4) scale(1.0 1.06)" text-anchor="middle" font-family="Liberation Serif, serif" font-size="28">600</text>
<line x1="366.3" y1="930.0" x2="366.3" y2="937" stroke="#000" stroke-width="1.7"/>
<text transform="translate(366.3 963.4) scale(1.0 1.06)" text-anchor="middle" font-family="Liberation Serif, serif" font-size="28">800</text>
<line x1="494.8" y1="930.0" x2="494.8" y2="937" stroke="#000" stroke-width="1.7"/>
<text transform="translate(494.8 963.4) scale(1.0 1.06)" text-anchor="middle" font-family="Liberation Serif, serif" font-size="28">1000</text>
<line x1="173.5" y1="930.0" x2="173.5" y2="933.6" stroke="#000" stroke-width="1.7"/>
<line x1="302.0" y1="930.0" x2="302.0" y2="933.6" stroke="#000" stroke-width="1.7"/>
<line x1="430.5" y1="930.0" x2="430.5" y2="933.6" stroke="#000" stroke-width="1.7"/>
<line x1="559.0" y1="930.0" x2="559.0" y2="933.6" stroke="#000" stroke-width="1.7"/>
<text x="334.5" y="1008" text-anchor="middle" font-family="Liberation Serif, serif" font-size="29">Wavelength (nm)</text>
<text transform="translate(82.2 750.2) rotate(-90) scale(1.042 1)" text-anchor="middle" font-family="Liberation Sans, sans-serif" font-size="34.4">Absorbance (a.u.)</text>
<rect x="557.6" y="849" width="3" height="3" fill="#fff"/>
<path d="M109.45 876.36 L110.80 877.08 L112.16 877.77 L113.53 878.43 L114.91 879.05 L116.29 879.64 L117.69 880.21 L119.10 880.74 L120.51 881.24 L121.93 881.72 L123.36 882.16 L124.80 882.58 L126.25 882.97 L127.70 883.33 L129.16 883.67 L130.62 883.99 L132.09 884.28 L133.57 884.54 L135.05 884.78 L136.54 885.00 L138.03 885.20 L139.52 885.37 L141.02 885.52 L142.52 885.66 L144.03 885.77 L145.54 885.87 L147.05 885.94 L148.56 886.00 L150.07 886.04 L151.59 886.06 L153.10 886.07 L154.62 886.06 L156.14 886.04 L157.66 886.00 L159.17 885.95 L160.69 885.88 L162.21 885.81 L163.72 885.72 L165.23 885.62 L166.74 885.51 L168.25 885.38 L169.76 885.25 L171.26 885.11 L172.76 884.96 L174.26 884.81 L175.75 884.65 L177.24 884.49 L178.73 884.33 L180.21 884.17 L181.70 884.02 L183.18 883.88 L184.67 883.75 L186.15 883.64 L187.63 883.54 L189.12 883.45 L190.60 883.39 L192.09 883.36 L193.58 883.35 L195.07 883.37 L196.56 883.42 L198.06 883.50 L199.55 883.62 L201.06 883.78 L202.56 883.98 L204.07 884.23 L205.59 884.51 L207.10 884.81 L208.62 885.13 L210.13 885.46 L211.64 885.78 L213.15 886.09 L214.65 886.37 L216.14 886.61 L217.63 886.81 L219.11 886.95 L220.57 887.02 L222.02 887.02 L223.45 886.93 L224.87 886.75 L226.28 886.46 L227.66 886.08 L229.02 885.60 L230.36 885.04 L231.67 884.39 L232.95 883.67 L234.21 882.88 L235.43 882.03 L236.62 881.12 L237.78 880.15 L238.91 879.13 L240.01 878.08 L241.08 876.98 L242.13 875.85 L243.16 874.69 L244.17 873.50 L245.16 872.30 L246.13 871.09 L247.10 869.86 L248.05 868.63 L248.99 867.41 L249.92 866.18 L250.84 864.94 L251.76 863.71 L252.66 862.48 L253.55 861.24 L254.44 860.00 L255.31 858.76 L256.18 857.52 L257.03 856.27 L257.88 855.03 L258.72 853.78 L259.55 852.52 L260.37 851.27 L261.19 850.01 L261.99 848.74 L262.79 847.48 L263.58 846.21 L264.36 844.94 L265.13 843.66 L265.90 842.38 L266.65 841.10 L267.40 839.81 L268.15 838.52 L268.88 837.22 L269.61 835.92 L270.33 834.61 L271.04 833.30 L271.75 831.99 L272.45 830.67 L273.15 829.34 L273.83 828.02 L274.52 826.69 L275.19 825.35 L275.86 824.01 L276.52 822.67 L277.18 821.33 L277.84 819.98 L278.48 818.62 L279.13 817.27 L279.76 815.91 L280.40 814.55 L281.02 813.18 L281.65 811.81 L282.27 810.44 L282.88 809.07 L283.49 807.70 L284.10 806.32 L284.70 804.94 L285.30 803.55 L285.90 802.17 L286.49 800.78 L287.08 799.39 L287.66 798.00 L288.25 796.61 L288.83 795.22 L289.41 793.82 L289.98 792.42 L290.55 791.03 L291.12 789.63 L291.69 788.23 L292.26 786.82 L292.83 785.42 L293.39 784.02 L293.95 782.61 L294.51 781.21 L295.07 779.80 L295.63 778.40 L296.19 776.99 L296.75 775.58 L297.30 774.18 L297.86 772.77 L298.41 771.36 L298.97 769.96 L299.53 768.55 L300.08 767.14 L300.64 765.74 L301.20 764.33 L301.75 762.93 L302.31 761.52 L302.87 760.12 L303.43 758.72 L303.99 757.32 L304.56 755.92 L305.12 754.52 L305.69 753.12 L306.25 751.73 L306.82 750.33 L307.40 748.94 L307.97 747.55 L308.55 746.16 L309.13 744.77 L309.71 743.39 L310.29 742.00 L310.88 740.62 L311.47 739.24 L312.07 737.87 L312.66 736.49 L313.26 735.12 L313.86 733.75 L314.47 732.38 L315.08 731.01 L315.69 729.64 L316.30 728.27 L316.91 726.91 L317.53 725.54 L318.15 724.18 L318.77 722.82 L319.40 721.46 L320.03 720.10 L320.65 718.74 L321.29 717.38 L321.92 716.02 L322.55 714.66 L323.19 713.30 L323.83 711.94 L324.47 710.57 L325.12 709.21 L325.76 707.85 L326.41 706.49 L327.06 705.13 L327.71 703.77 L328.36 702.40 L329.01 701.04 L329.67 699.67 L330.32 698.31 L330.98 696.94 L331.65 695.57 L332.32 694.21 L332.99 692.85 L333.68 691.49 L334.37 690.15 L335.08 688.81 L335.80 687.48 L336.54 686.16 L337.30 684.85 L338.07 683.56 L338.87 682.28 L339.68 681.02 L340.52 679.78 L341.39 678.55 L342.28 677.35 L343.20 676.17 L344.15 675.01 L345.13 673.88 L346.15 672.77 L347.20 671.69 L348.29 670.65 L349.41 669.63 L350.58 668.64 L351.78 667.69 L353.03 666.77 L354.32 665.89 L355.64 665.06 L356.99 664.28 L358.38 663.56 L359.78 662.90 L361.21 662.31 L362.66 661.80 L364.12 661.36 L365.59 661.01 L367.07 660.75 L368.55 660.59 L370.03 660.52 L371.51 660.56 L372.98 660.70 L374.44 660.92 L375.90 661.23 L377.35 661.60 L378.78 662.05 L380.20 662.55 L381.60 663.11 L382.98 663.71 L384.34 664.35 L385.68 665.03 L387.00 665.74 L388.31 666.48 L389.59 667.25 L390.85 668.05 L392.10 668.88 L393.33 669.74 L394.55 670.62 L395.75 671.52 L396.94 672.44 L398.12 673.39 L399.28 674.35 L400.44 675.33 L401.58 676.33 L402.71 677.34 L403.84 678.37 L404.95 679.41 L406.06 680.45 L407.17 681.51 L408.26 682.57 L409.36 683.64 L410.45 684.71 L411.53 685.79 L412.62 686.87 L413.70 687.95 L414.78 689.02 L415.86 690.10 L416.95 691.16 L418.03 692.23 L419.12 693.28 L420.21 694.33 L421.30 695.37 L422.40 696.40 L423.50 697.43 L424.60 698.45 L425.70 699.46 L426.81 700.48 L427.91 701.49 L429.01 702.50 L430.11 703.51 L431.21 704.52 L432.30 705.53 L433.39 706.54 L434.48 707.56 L435.57 708.58 L436.65 709.61 L437.72 710.64 L438.79 711.69 L439.85 712.74 L440.91 713.80 L441.96 714.87 L443.00 715.95 L444.04 717.03 L445.07 718.13 L446.10 719.23 L447.12 720.33 L448.14 721.44 L449.16 722.55 L450.18 723.67 L451.19 724.79 L452.21 725.91 L453.22 727.03 L454.24 728.15 L455.25 729.27 L456.27 730.39 L457.29 731.51 L458.31 732.62 L459.33 733.74 L460.36 734.84 L461.39 735.95 L462.43 737.05 L463.47 738.14 L464.51 739.23 L465.55 740.32 L466.60 741.40 L467.65 742.48 L468.71 743.56 L469.76 744.63 L470.82 745.71 L471.88 746.78 L472.94 747.84 L474.01 748.91 L475.07 749.97 L476.13 751.04 L477.20 752.10 L478.27 753.16 L479.33 754.22 L480.40 755.29 L481.47 756.35 L482.53 757.41 L483.60 758.47 L484.66 759.53 L485.72 760.60 L486.79 761.66 L487.85 762.73 L488.90 763.79 L489.96 764.86 L491.02 765.94 L492.07 767.01 L493.12 768.09 L494.17 769.17 L495.21 770.25 L496.25 771.34 L497.29 772.42 L498.32 773.52 L499.35 774.62 L500.37 775.72 L501.40 776.82 L502.42 777.93 L503.43 779.04 L504.45 780.16 L505.46 781.27 L506.47 782.39 L507.48 783.50 L508.50 784.62 L509.51 785.73 L510.53 786.85 L511.55 787.96 L512.57 789.07 L513.60 790.17 L514.63 791.27 L515.67 792.36 L516.71 793.45 L517.76 794.54 L518.81 795.61 L519.88 796.68 L520.95 797.74 L522.02 798.80 L523.11 799.85 L524.19 800.90 L525.28 801.94 L526.37 802.98 L527.46 804.03 L528.55 805.07 L529.63 806.12 L530.71 807.17 L531.78 808.23 L532.84 809.29 L533.90 810.37 L534.94 811.45 L535.98 812.54 L537.00 813.64 L538.00 814.75 L538.99 815.88 L539.97 817.03 L540.92 818.19 L541.86 819.36 L542.78 820.55 L543.69 821.75 L544.58 822.96 L545.46 824.19 L546.32 825.43 L547.17 826.67 L548.00 827.93 L548.82 829.20 L549.63 830.47 L550.43 831.76 L551.22 833.05 L552.00 834.34 L552.76 835.64 L553.52 836.95 L554.27 838.26 L555.01 839.58 L555.74 840.89 L556.46 842.21 L557.18 843.54 L557.89 844.86 L558.60 846.18 L559.30 847.50" fill="none" stroke="#2443a0" stroke-width="2.8" stroke-linejoin="round" stroke-linecap="round"/>
<rect x="401.4" y="557.3" width="149.4" height="34.6" fill="#fff" stroke="#444" stroke-width="1"/>
<line x1="404.9" y1="573.5" x2="446.8" y2="573.5" stroke="#2443a0" stroke-width="2.9" stroke-linecap="round"/>
<text transform="translate(451.6 578.9) scale(1 1.05)" font-family="Liberation Serif, serif" font-size="22">CuSO</text>
<text x="506" y="588.2" font-family="Liberation Serif, serif" font-size="12.5">4</text>
<text transform="translate(519 578.9) scale(1 1.05)" font-family="Liberation Serif, serif" font-size="22">1%</text>
</svg></body></html>
